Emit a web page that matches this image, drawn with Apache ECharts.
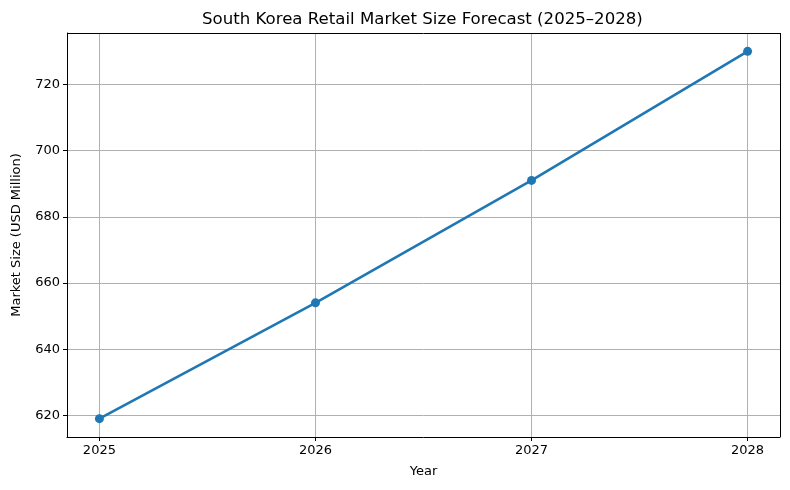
<!DOCTYPE html>
<html>
<head>
<meta charset="utf-8">
<script src="https://cdn.jsdelivr.net/npm/echarts@6/dist/echarts.min.js"></script>
<style>
html,body{margin:0;padding:0;background:#fff;}
#chart{width:790px;height:490px;}
</style>
</head>
<body>
<div id="chart"></div>
<script>
const years = [2025, 2026, 2027, 2028];
const marketSize = [619, 654, 691, 730];
const yTicks = [620, 640, 660, 680, 700, 720];
const xTicks = [2025, 2026, 2027, 2028];

const xPad = (years[years.length - 1] - years[0]) * 0.05;
const yMinV = Math.min(...marketSize), yMaxV = Math.max(...marketSize);
const yPad = (yMaxV - yMinV) * 0.05;

const font = 'DejaVu Sans';
const chart = echarts.init(document.getElementById('chart'), null, {renderer: 'canvas'});
chart.setOption({
  animation: false,
  backgroundColor: '#ffffff',
  title: {
    text: 'South Korea Retail Market Size Forecast (2025–2028)',
    left: 202, top: 11, padding: 0,
    textStyle: {fontFamily: font, fontSize: 16.6, fontWeight: 'normal', color: '#000'}
  },
  grid: {left: 67, right: 10, top: 33, bottom: 53, containLabel: false, outerBoundsMode: 'none'},
  xAxis: {
    type: 'value',
    min: years[0] - xPad, max: years[years.length - 1] + xPad,
    name: 'Year', nameLocation: 'middle', nameGap: 28,
    nameTextStyle: {fontFamily: font, fontSize: 13, color: '#000'},
    axisLine: {show: true, onZero: false, lineStyle: {color: '#000', width: 1}},
    axisTick: {show: true, length: 4, inside: false, customValues: xTicks, lineStyle: {color: '#000'}},
    axisLabel: {customValues: xTicks, fontFamily: font, fontSize: 13, color: '#000', margin: 7, formatter: v => String(v)},
    splitLine: {show: true, lineStyle: {color: '#b0b0b0', width: 1}}
  },
  yAxis: {
    type: 'value',
    min: yMinV - yPad, max: yMaxV + yPad,
    name: 'Market Size (USD Million)', nameLocation: 'middle', nameGap: 44,
    nameTextStyle: {fontFamily: font, fontSize: 13, color: '#000'},
    axisLine: {show: true, onZero: false, lineStyle: {color: '#000', width: 1}},
    axisTick: {show: true, length: 4, inside: false, customValues: yTicks, lineStyle: {color: '#000'}},
    axisLabel: {customValues: yTicks, fontFamily: font, fontSize: 13, color: '#000', margin: 7, formatter: v => String(v)},
    splitLine: {show: true, lineStyle: {color: '#b0b0b0', width: 1}}
  },
  series: [
    {
      type: 'line',
      data: years.map((y, i) => [y, marketSize[i]]),
      symbol: 'circle', symbolSize: 9,
      lineStyle: {color: '#1f77b4', width: 2.6},
      itemStyle: {color: '#1f77b4'},
      clip: false, z: 5
    },
    {
      type: 'line', data: [], silent: true,
      markLine: {
        silent: true, symbol: 'none', label: {show: false},
        lineStyle: {color: '#000', width: 1, type: 'solid'},
        data: [
          [{coord: [years[0] - xPad, yMaxV + yPad]}, {coord: [years[years.length - 1] + xPad, yMaxV + yPad]}],
          [{coord: [years[years.length - 1] + xPad, yMinV - yPad]}, {coord: [years[years.length - 1] + xPad, yMaxV + yPad]}]
        ]
      }
    }
  ]
});
</script>
</body>
</html>
